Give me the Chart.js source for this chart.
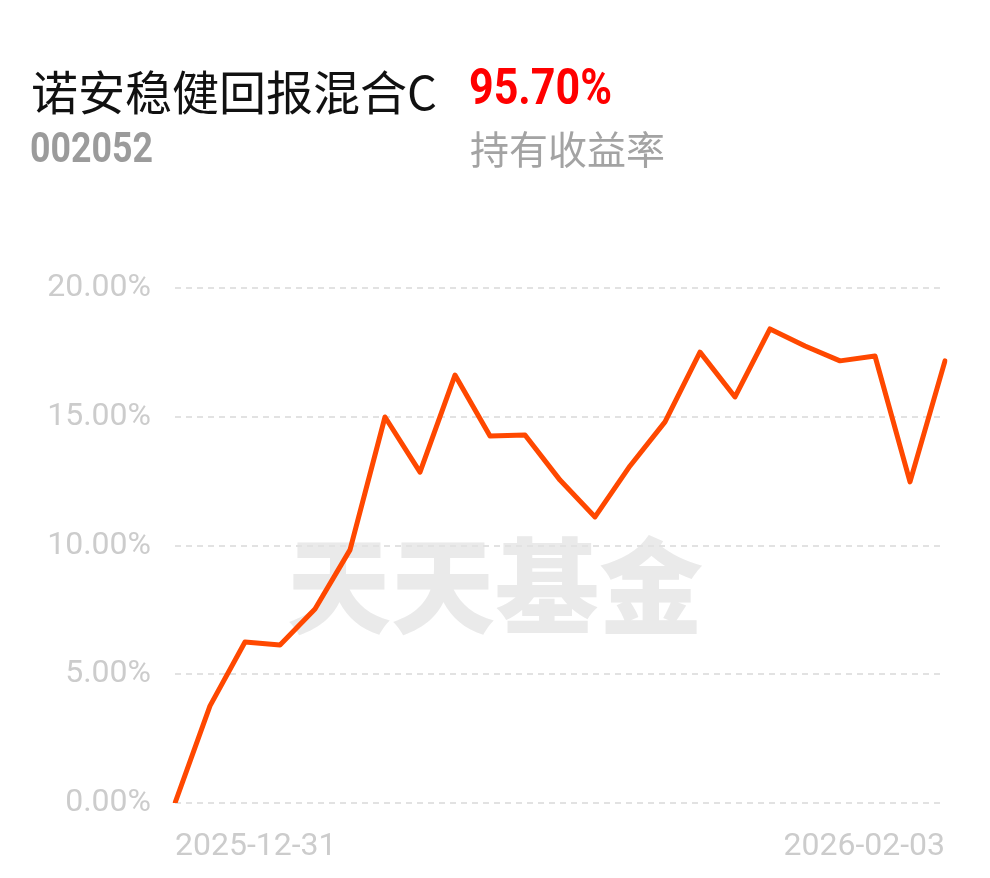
<!DOCTYPE html>
<html>
<head>
<meta charset="utf-8">
<script src="https://cdn.jsdelivr.net/npm/chart.js@4.4.1/dist/chart.umd.min.js"></script>
<style>
  html, body { margin: 0; padding: 0; background: #fff; }
  #wrap { position: relative; width: 990px; height: 878px; overflow: hidden; }
  #c { position: absolute; left: 0; top: 0; }
  .t { position: absolute; white-space: nowrap; line-height: 1; transform-origin: 0 0; }
  #name { left: 31px; top: 55px; font: 47px "Noto Sans CJK SC", sans-serif; color: #111; }
  #rate { left: 469px; top: 58px; font: bold 50px "Roboto", sans-serif; color: #f00; transform: scaleX(0.86); }
  #code { left: 30px; top: 122px; font: bold 43px "Roboto", sans-serif; color: #9b9b9b; transform: scaleX(0.83); }
  #sub { left: 470px; top: 119px; font: 39px "Noto Sans CJK SC", sans-serif; color: #a3a3a3; }
</style>
</head>
<body>
<div id="wrap">
  <canvas id="c" width="990" height="878"></canvas>
  <div class="t" id="name">诺安稳健回报混合C</div>
  <div class="t" id="rate">95.70%</div>
  <div class="t" id="code">002052</div>
  <div class="t" id="sub">持有收益率</div>
</div>
<script>
// trading days shown on the chart
const dates = [
  "2025-12-31",
  "2026-01-05", "2026-01-06", "2026-01-07", "2026-01-08", "2026-01-09",
  "2026-01-12", "2026-01-13", "2026-01-14", "2026-01-15", "2026-01-16",
  "2026-01-19", "2026-01-20", "2026-01-21", "2026-01-22", "2026-01-23",
  "2026-01-26", "2026-01-27", "2026-01-28", "2026-01-29", "2026-01-30",
  "2026-02-02", "2026-02-03",
];
// holding return, %
const returns = [
  0, 3.77, 6.25, 6.14, 7.53, 9.83,
  14.99, 12.85, 16.62, 14.25, 14.29,
  12.54, 11.11, 13.09, 14.80, 17.51,
  15.77, 18.41, 17.75, 17.17, 17.36,
  12.47, 17.17,
];
const yTicks = [0, 5, 10, 15, 20];
const watermark = "天天基金";

const tickColor = "#cccccc", gridColor = "#e2e2e2";

// faint brand text behind the line
const watermarkPlugin = {
  id: "watermark",
  beforeDraw(chart) {
    const { ctx } = chart;
    ctx.save();
    ctx.fillStyle = "#fff";
    ctx.fillRect(0, 0, chart.width, chart.height);
    ctx.fillStyle = "#eaeaea";
    ctx.font = "900 104px 'Noto Sans CJK SC'";
    ctx.textAlign = "center";
    ctx.textBaseline = "middle";
    ctx.fillText(watermark, chart.width / 2, 586);
    ctx.restore();
  },
};

new Chart(document.getElementById("c"), {
  type: "line",
  data: {
    labels: dates,
    datasets: [{
      data: returns,
      borderColor: "#ff4800",
      borderWidth: 5,
      pointRadius: 0,
      tension: 0,
      borderJoinStyle: "round",
      borderCapStyle: "round",
    }],
  },
  options: {
    responsive: false,
    animation: false,
    layout: { padding: { top: 288, right: 45, bottom: 0, left: 0 } },
    plugins: { legend: { display: false }, tooltip: { enabled: false } },
    scales: {
      x: {
        grid: { display: false, drawTicks: false },
        border: { display: false },
        afterFit: (s) => { s.height = 75; },
        ticks: {
          autoSkip: false, maxRotation: 0, minRotation: 0, align: "inner", padding: 25,
          color: tickColor, font: { family: "Roboto", size: 32 },
          callback(v, i, ticks) {
            return (i === 0 || i === ticks.length - 1) ? this.getLabelForValue(v) : "";
          },
        },
      },
      y: {
        min: yTicks[0], max: yTicks[yTicks.length - 1],
        afterBuildTicks: (s) => { s.ticks = yTicks.map((v) => ({ value: v })); },
        afterFit: (s) => { s.width = 175; },
        grid: { color: gridColor, lineWidth: 2, drawTicks: false },
        border: { display: false, dash: [6, 5] },
        ticks: {
          padding: 24, color: tickColor,
          font: { family: "Roboto", size: 32 },
          callback: (v) => v.toFixed(2) + "%",
        },
      },
    },
  },
  plugins: [watermarkPlugin],
});
</script>
</body>
</html>
